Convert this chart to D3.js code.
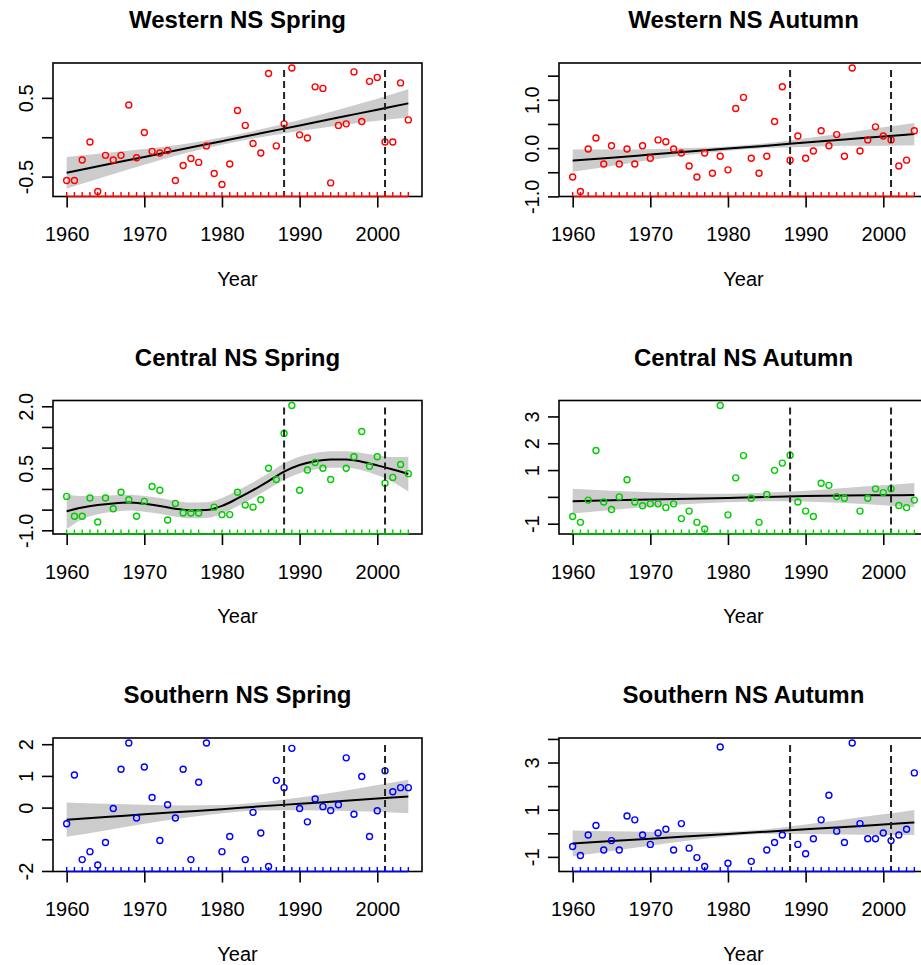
<!DOCTYPE html>
<html>
<head>
<meta charset="utf-8">
<script src="https://cdn.jsdelivr.net/npm/d3@7"></script>
<style>
  body { margin: 0; background: #fff; }
  svg { display: block; font-family: "Liberation Sans", Arial, sans-serif; }
</style>
</head>
<body>
<div id="chart"></div>
<script>
// survey years, one value per year (null = no survey that year)
const years = [1960,1961,1962,1963,1964,1965,1966,1967,1968,1969,
               1970,1971,1972,1973,1974,1975,1976,1977,1978,1979,
               1980,1981,1982,1983,1984,1985,1986,1987,1988,1989,
               1990,1991,1992,1993,1994,1995,1996,1997,1998,1999,
               2000,2001,2002,2003,2004];

const westernSpring = [-0.55,-0.55,-0.29,-0.06,-0.69,-0.23,-0.29,-0.23,0.41,-0.26,
                       0.06,-0.18,-0.20,-0.17,-0.55,-0.36,-0.27,-0.32,-0.11,-0.46,
                       -0.60,-0.34,0.34,0.15,-0.08,-0.20,0.81,-0.11,0.17,0.88,
                       0.03,-0.01,0.64,0.62,-0.58,0.15,0.17,0.83,0.20,0.71,
                       0.76,-0.06,-0.06,0.69,0.22];
const westernAutumn = [-0.60,-0.90,-0.02,0.21,-0.33,0.05,-0.33,-0.02,-0.33,0.05,
                       -0.21,0.17,0.13,-0.02,-0.10,-0.37,-0.60,-0.10,-0.52,-0.17,
                       -0.45,0.82,1.05,-0.21,-0.52,-0.17,0.55,1.27,-0.25,0.25,
                       -0.21,-0.06,0.36,0.05,0.28,-0.17,1.66,-0.06,0.17,0.44,
                       0.25,0.17,-0.37,-0.25,0.36];
const centralSpring = [-0.18,-0.66,-0.66,-0.22,-0.80,-0.22,-0.48,-0.08,-0.26,-0.66,
                       -0.30,0.06,-0.03,-0.75,-0.35,-0.58,-0.58,-0.58,null,-0.44,
                       -0.62,-0.62,-0.08,-0.39,-0.44,-0.26,0.50,0.23,1.34,2.02,
                       -0.03,0.46,0.64,0.50,0.23,null,0.50,0.78,1.39,0.55,
                       0.78,0.14,0.28,0.59,0.37];
const centralAutumn = [-0.73,-0.95,-0.12,1.73,-0.19,-0.47,0.00,0.64,-0.19,-0.33,
                       -0.26,-0.26,-0.40,-0.26,-0.81,-0.53,-0.95,-1.20,null,3.41,
                       -0.67,0.71,1.54,-0.05,-0.95,0.09,0.99,1.26,1.55,-0.19,
                       -0.53,-0.73,0.51,0.43,0.01,-0.05,null,-0.53,-0.05,0.30,
                       0.16,0.30,-0.32,-0.40,-0.12];
const southernSpring = [-0.51,1.03,-1.64,-1.39,-1.81,-1.10,-0.03,1.21,2.04,-0.33,
                        1.28,0.32,-1.04,0.09,-0.33,1.21,-1.64,0.80,2.04,null,
                        -1.39,-0.91,null,-1.64,-0.15,-0.80,-1.86,0.86,0.63,1.87,
                        -0.03,-0.45,0.27,0.03,-0.09,0.09,1.57,-0.21,0.98,-0.91,
                        -0.10,1.16,0.50,0.63,0.63];
const southernAutumn = [-0.56,-0.94,-0.07,0.33,-0.71,-0.31,-0.71,0.73,0.57,-0.07,
                        -0.47,0.01,0.17,-0.71,0.41,-0.63,-1.03,-1.41,null,3.66,
                        -1.27,null,null,-1.19,null,-0.71,-0.39,-0.07,null,-0.47,
                        -0.87,-0.23,0.57,1.61,0.09,-0.39,3.83,0.41,-0.23,-0.23,
                        0.01,-0.31,-0.07,0.17,2.56];

// fitted trend and its confidence band, read at a few years
const trendYears = [1960,1965,1970,1975,1980,1985,1990,1995,2000,2004];
const wsFit = [-0.45,-0.35,-0.25,-0.15,-0.05,0.05,0.15,0.25,0.35,0.43];
const wsLo  = [-0.65,-0.50,-0.35,-0.21,-0.095,0.00,0.08,0.15,0.21,0.25];
const wsHi  = [-0.25,-0.20,-0.15,-0.09,-0.005,0.10,0.22,0.35,0.49,0.61];
const waFit = [-0.26,-0.20,-0.135,-0.07,-0.01,0.05,0.115,0.18,0.24,0.29];
const waLo  = [-0.49,-0.37,-0.245,-0.14,-0.055,0.00,0.025,0.05,0.05,0.06];
const waHi  = [-0.03,-0.03,-0.025,0.00,0.035,0.10,0.205,0.31,0.43,0.52];
const caFit = [-0.16,-0.13,-0.10,-0.07,-0.04,0.00,0.03,0.05,0.06,0.07];
const caLo  = [-0.62,-0.49,-0.37,-0.27,-0.20,-0.16,-0.17,-0.23,-0.31,-0.38];
const caHi  = [0.30,0.23,0.17,0.13,0.12,0.16,0.23,0.33,0.43,0.52];
const ssFit = [-0.38,-0.30,-0.21,-0.13,-0.05,0.04,0.12,0.20,0.29,0.35];
const ssLo  = [-0.92,-0.72,-0.51,-0.33,-0.18,-0.09,-0.08,-0.10,-0.13,-0.18];
const ssHi  = [0.16,0.12,0.09,0.07,0.08,0.17,0.32,0.50,0.71,0.88];
const saFit = [-0.43,-0.33,-0.23,-0.13,-0.03,0.07,0.17,0.27,0.37,0.46];
const saLo  = [-0.98,-0.75,-0.53,-0.31,-0.13,-0.03,-0.03,-0.05,-0.07,-0.07];
const saHi  = [0.12,0.09,0.07,0.05,0.07,0.17,0.37,0.59,0.81,0.99];

// central spring has a smooth (non-linear) fit
const smoothYears = [1960,1962,1964,1966,1968,1970,1972,1974,1976,1978,1980,1982,
                     1984,1986,1988,1990,1992,1994,1996,1998,2000,2002,2004];
const csFit = [-0.54,-0.45,-0.39,-0.35,-0.33,-0.36,-0.41,-0.48,-0.52,-0.51,-0.41,-0.23,
               -0.03,0.19,0.42,0.58,0.67,0.71,0.71,0.66,0.57,0.47,0.36];
const csLo  = [-0.97,-0.73,-0.61,-0.55,-0.52,-0.55,-0.60,-0.67,-0.71,-0.70,-0.60,-0.42,
               -0.22,0.00,0.22,0.38,0.47,0.51,0.51,0.45,0.33,0.17,-0.06];
const csHi  = [-0.14,-0.17,-0.17,-0.15,-0.14,-0.17,-0.22,-0.29,-0.33,-0.32,-0.22,-0.04,
               0.16,0.38,0.62,0.78,0.87,0.91,0.91,0.87,0.81,0.77,0.78];

const xTicks = [1960, 1970, 1980, 1990, 2000];
const breakYears = [1988, 2001];

const wsTicks = [-0.5, 0, 0.5],              wsTickLabels = ["-0.5", "", "0.5"];
const waTicks = [-1, -0.5, 0, 0.5, 1, 1.5],  waTickLabels = ["-1.0", "", "0.0", "", "1.0", ""];
const csTicks = [-1, -0.5, 0, 0.5, 1, 1.5, 2], csTickLabels = ["-1.0", "", "", "0.5", "", "", "2.0"];
const caTicks = [-1, 0, 1, 2, 3],            caTickLabels = ["-1", "", "1", "2", "3"];
const ssTicks = [-2, -1, 0, 1, 2],           ssTickLabels = ["-2", "", "0", "1", "2"];
const saTicks = [-1, 0, 1, 2, 3, 4],         saTickLabels = ["-1", "", "1", "", "3", ""];

const red = "#ff0000", green = "#00cd00", blue = "#0000ff";

const panels = [
  {title: "Western NS Spring",  values: westernSpring,  color: red,   fy: trendYears,  fit: wsFit, lo: wsLo, hi: wsHi, ticks: wsTicks, labels: wsTickLabels},
  {title: "Western NS Autumn",  values: westernAutumn,  color: red,   fy: trendYears,  fit: waFit, lo: waLo, hi: waHi, ticks: waTicks, labels: waTickLabels},
  {title: "Central NS Spring",  values: centralSpring,  color: green, fy: smoothYears, fit: csFit, lo: csLo, hi: csHi, ticks: csTicks, labels: csTickLabels},
  {title: "Central NS Autumn",  values: centralAutumn,  color: green, fy: trendYears,  fit: caFit, lo: caLo, hi: caHi, ticks: caTicks, labels: caTickLabels},
  {title: "Southern NS Spring", values: southernSpring, color: blue,  fy: trendYears,  fit: ssFit, lo: ssLo, hi: ssHi, ticks: ssTicks, labels: ssTickLabels},
  {title: "Southern NS Autumn", values: southernAutumn, color: blue,  fy: trendYears,  fit: saFit, lo: saLo, hi: saHi, ticks: saTicks, labels: saTickLabels},
];

const colLeft = [53, 559];
const rowTop = [63, 400.5, 738];
const plotW = 369, plotH = 133.5;

// R-style 4% axis padding
function padded(ext) {
  const d = (ext[1] - ext[0]) * 0.04;
  return [ext[0] - d, ext[1] + d];
}

const svg = d3.select("#chart").append("svg").attr("width", 921).attr("height", 965);

panels.forEach((p, i) => {
  const left = colLeft[i % 2], top = rowTop[Math.floor(i / 2)];
  const g = svg.append("g").attr("transform", `translate(${left},${top})`);

  const pts = years.map((yr, j) => ({year: yr, value: p.values[j]})).filter(d => d.value != null);
  const band = p.fy.map((yr, j) => ({year: yr, fit: p.fit[j], lo: p.lo[j], hi: p.hi[j]}));

  const x = d3.scaleLinear().domain(padded(d3.extent(years))).range([0, plotW]);
  const y = d3.scaleLinear()
    .domain(padded(d3.extent([...pts.map(d => d.value), ...p.lo, ...p.hi])))
    .range([plotH, 0]);

  g.append("path").datum(band)
    .attr("fill", "#cccccc")
    .attr("d", d3.area().x(d => x(d.year)).y0(d => y(d.lo)).y1(d => y(d.hi)).curve(d3.curveMonotoneX));

  g.append("path").datum(band)
    .attr("fill", "none").attr("stroke", "#000").attr("stroke-width", 2)
    .attr("d", d3.line().x(d => x(d.year)).y(d => y(d.fit)).curve(d3.curveMonotoneX));

  g.selectAll("circle").data(pts).join("circle")
    .attr("cx", d => x(d.year)).attr("cy", d => y(d.value)).attr("r", 3)
    .attr("fill", "none").attr("stroke", p.color).attr("stroke-width", 1.4);

  g.selectAll(".brk").data(breakYears).join("line").attr("class", "brk")
    .attr("x1", d => x(d)).attr("x2", d => x(d))
    .attr("y1", 7).attr("y2", plotH)
    .attr("stroke", "#222").attr("stroke-width", 2).attr("stroke-dasharray", "7,4");

  g.append("rect").attr("width", plotW).attr("height", plotH)
    .attr("fill", "none").attr("stroke", "#000").attr("stroke-width", 1.6);

  // rug along the bottom
  g.append("line")
    .attr("x1", x(pts[0].year)).attr("x2", x(pts[pts.length - 1].year))
    .attr("y1", plotH).attr("y2", plotH)
    .attr("stroke", p.color).attr("stroke-width", 1.6);
  g.selectAll(".rug").data(pts).join("line").attr("class", "rug")
    .attr("x1", d => x(d.year)).attr("x2", d => x(d.year))
    .attr("y1", plotH).attr("y2", plotH - 4.5)
    .attr("stroke", p.color).attr("stroke-width", 1.4);

  g.append("g").attr("transform", `translate(0,${plotH})`)
    .call(d3.axisBottom(x).tickValues(xTicks).tickSize(11).tickPadding(19.5).tickFormat(d3.format("d")))
    .call(a => a.select(".domain").remove())
    .call(a => a.selectAll("line").attr("stroke-width", 1.6))
    .attr("font-size", 20).attr("font-family", null);

  g.append("g")
    .call(d3.axisLeft(y).tickValues(p.ticks).tickSize(11).tickFormat(d => p.labels[p.ticks.indexOf(d)]))
    .call(a => a.select(".domain").remove())
    .call(a => a.selectAll("line").attr("stroke-width", 1.6))
    .call(a => a.selectAll("text")
      .attr("x", 0).attr("dy", null)
      .attr("text-anchor", "middle")
      .attr("transform", "translate(-20,0) rotate(-90)"))
    .attr("font-size", 20).attr("font-family", null);

  svg.append("text")
    .attr("x", left + plotW / 2).attr("y", top - 34.7)
    .attr("text-anchor", "middle")
    .attr("font-size", 24).attr("font-weight", "bold")
    .text(p.title);

  svg.append("text")
    .attr("x", left + plotW / 2).attr("y", top + plotH + 89)
    .attr("text-anchor", "middle")
    .attr("font-size", 20)
    .text("Year");
});
</script>
</body>
</html>
